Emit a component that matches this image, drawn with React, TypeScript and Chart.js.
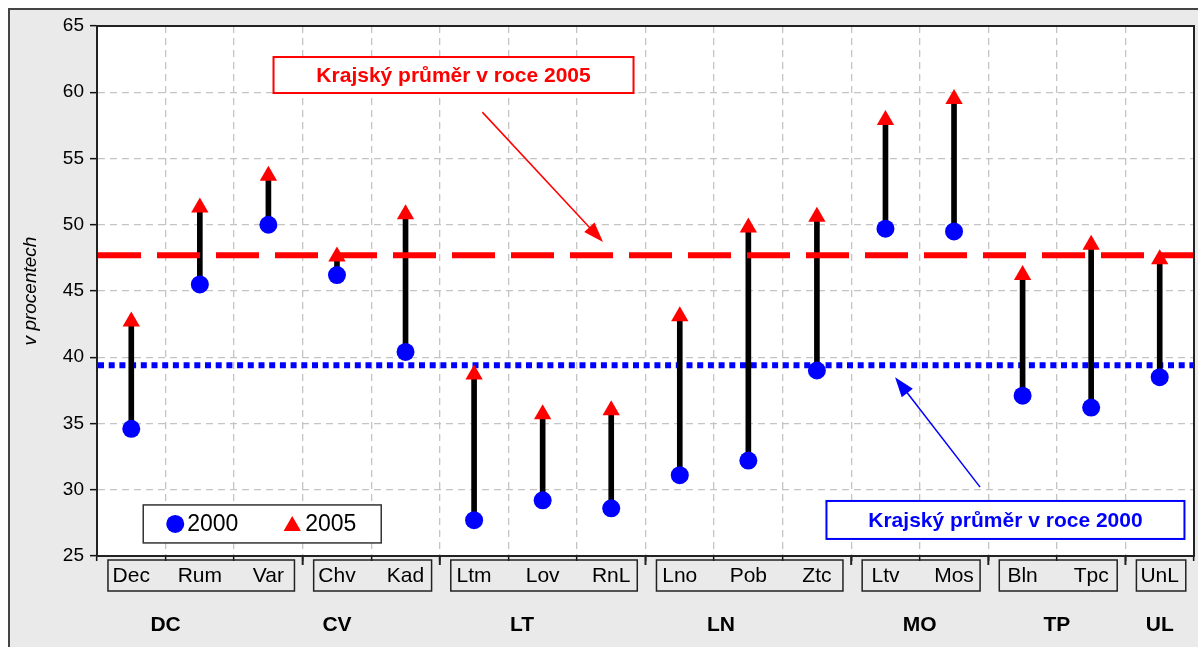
import React, { useEffect, useRef } from 'react';
import { Chart, registerables } from 'chart.js';

Chart.register(...registerables);

// ---------- data ----------
const categories = ['Dec', 'Rum', 'Var', 'Chv', 'Kad', 'Ltm', 'Lov', 'RnL', 'Lno', 'Pob', 'Ztc', 'Ltv', 'Mos', 'Bln', 'Tpc', 'UnL'];
const values2000 = [34.6, 45.5, 50.0, 46.2, 40.4, 27.7, 29.2, 28.6, 31.1, 32.2, 39.0, 49.7, 49.5, 37.1, 36.2, 38.5];
const values2005 = [42.7, 51.3, 53.7, 47.6, 50.8, 38.7, 35.7, 36.0, 43.1, 49.8, 50.6, 57.9, 59.5, 46.2, 48.5, 47.4];
const groupNames = ['DC', 'CV', 'LT', 'LN', 'MO', 'TP', 'UL'];
const groupSizes = [3, 2, 3, 3, 2, 2, 1];
const seriesLabels = ['2000', '2005'];
const regionalAvg2000 = 39.4;
const regionalAvg2005 = 47.7;
const avgLabel2000 = 'Krajský průměr v roce 2000';
const avgLabel2005 = 'Krajský průměr v roce 2005';
const yMin = 25;
const yMax = 65;
const yStep = 5;
const yTitle = 'v procentech';

// ---------- layout (data-coordinate anchors for decorations) ----------
const groupLabelAt = [0.5, 3, 5.7, 8.6, 11.5, 13.5, 15];
const box2005 = { x: 4.7, y: 61.3, w: 360, h: 36 };
const arrow2005 = { x1: 5.12, y1: 58.5, x2: 6.88, y2: 48.7 };
const box2000 = { x: 12.75, y: 27.72, w: 358, h: 38 };
const arrow2000 = { x1: 12.38, y1: 30.2, x2: 11.14, y2: 38.5 };
const legendBox = { x: 1.91, y: 27.42, w: 238, h: 38 };

const FONT = '"Liberation Sans", Arial, sans-serif';
const BLUE = '#0000ff';
const RED = '#ff0000';

function drawArrow(ctx: CanvasRenderingContext2D, x1: number, y1: number, x2: number, y2: number, color: string) {
  const ang = Math.atan2(y2 - y1, x2 - x1);
  const L = 20;
  const W = 7;
  ctx.save();
  ctx.strokeStyle = color;
  ctx.fillStyle = color;
  ctx.lineWidth = 1.5;
  ctx.beginPath();
  ctx.moveTo(x1, y1);
  ctx.lineTo(x2 - L * 0.8 * Math.cos(ang), y2 - L * 0.8 * Math.sin(ang));
  ctx.stroke();
  ctx.beginPath();
  ctx.moveTo(x2, y2);
  ctx.lineTo(x2 - L * Math.cos(ang) + W * Math.sin(ang), y2 - L * Math.sin(ang) - W * Math.cos(ang));
  ctx.lineTo(x2 - L * Math.cos(ang) - W * Math.sin(ang), y2 - L * Math.sin(ang) + W * Math.cos(ang));
  ctx.closePath();
  ctx.fill();
  ctx.restore();
}

function drawTextBox(ctx: CanvasRenderingContext2D, cx: number, cy: number, w: number, h: number, color: string, text: string) {
  ctx.save();
  ctx.fillStyle = '#ffffff';
  ctx.fillRect(cx - w / 2, cy - h / 2, w, h);
  ctx.strokeStyle = color;
  ctx.lineWidth = 2;
  ctx.strokeRect(cx - w / 2, cy - h / 2, w, h);
  ctx.fillStyle = color;
  ctx.font = `bold 21px ${FONT}`;
  ctx.textAlign = 'center';
  ctx.textBaseline = 'middle';
  ctx.fillText(text, cx, cy + 1);
  ctx.restore();
}

function drawTriangle(ctx: CanvasRenderingContext2D, x: number, y: number, r: number) {
  ctx.beginPath();
  let rad = 0;
  ctx.moveTo(x + Math.sin(rad) * r, y - Math.cos(rad) * r);
  rad += (2 * Math.PI) / 3;
  ctx.lineTo(x + Math.sin(rad) * r, y - Math.cos(rad) * r);
  rad += (2 * Math.PI) / 3;
  ctx.lineTo(x + Math.sin(rad) * r, y - Math.cos(rad) * r);
  ctx.closePath();
  ctx.fill();
}

const backgroundPlugin = {
  id: 'bgFrame',
  beforeDraw(chart: any) {
    const { ctx, width, height, chartArea: a } = chart;
    ctx.save();
    ctx.fillStyle = '#eaeaea';
    ctx.fillRect(0, 0, width, height);
    ctx.fillStyle = '#ffffff';
    ctx.fillRect(a.left, a.top, a.right - a.left, a.bottom - a.top);
    ctx.strokeStyle = '#444';
    ctx.lineWidth = 2;
    ctx.beginPath();
    ctx.moveTo(1, height);
    ctx.lineTo(1, 1);
    ctx.lineTo(width, 1);
    ctx.stroke();
    ctx.restore();
  },
};

function avgLine(chart: any, value: number, color: string, width: number, dash: number[]) {
  const { ctx, chartArea: a, scales } = chart;
  const y = scales.y.getPixelForValue(value);
  ctx.save();
  ctx.strokeStyle = color;
  ctx.lineWidth = width;
  ctx.setLineDash(dash);
  ctx.lineCap = 'butt';
  ctx.beginPath();
  ctx.moveTo(a.left + 1, y);
  ctx.lineTo(a.right - 1, y);
  ctx.stroke();
  ctx.restore();
}

const avgLinesPlugin = {
  id: 'avgLines',
  beforeDatasetsDraw(chart: any) {
    avgLine(chart, regionalAvg2000, BLUE, 6, [6, 4.7]);
  },
  afterDatasetsDraw(chart: any) {
    avgLine(chart, regionalAvg2005, RED, 6, [43, 16]);
  },
};

const decorPlugin = {
  id: 'decor',
  afterDraw(chart: any) {
    const { ctx, chartArea: a, scales } = chart;
    const xs = scales.x;
    const ys = scales.y;
    const step = xs.getPixelForValue(1) - xs.getPixelForValue(0);

    // plot border
    ctx.save();
    ctx.strokeStyle = '#222';
    ctx.lineWidth = 2;
    ctx.strokeRect(a.left, a.top, a.right - a.left, a.bottom - a.top);
    ctx.restore();

    // group boxes, longer ticks and group labels
    let start = 0;
    ctx.save();
    groupSizes.forEach((n, gi) => {
      const first = xs.getPixelForValue(start);
      const last = xs.getPixelForValue(start + n - 1);
      const left = first - step * 0.34;
      const right = Math.min(last + step * 0.38, a.right);
      ctx.strokeStyle = '#222';
      ctx.lineWidth = 1.5;
      ctx.strokeRect(left, a.bottom + 4, right - left, 31);
      if (gi > 0) {
        const bx = xs.getPixelForValue(start - 0.5);
        ctx.beginPath();
        ctx.lineWidth = 2;
        ctx.moveTo(bx, a.bottom);
        ctx.lineTo(bx, a.bottom + 9);
        ctx.stroke();
      }
      ctx.fillStyle = '#000';
      ctx.font = `bold 21px ${FONT}`;
      ctx.textAlign = 'center';
      ctx.textBaseline = 'middle';
      ctx.fillText(groupNames[gi], xs.getPixelForValue(groupLabelAt[gi]), a.bottom + 69);
      start += n;
    });
    ctx.restore();

    // legend
    const lx = xs.getPixelForValue(legendBox.x) - legendBox.w / 2;
    const ly = ys.getPixelForValue(legendBox.y) - legendBox.h / 2;
    const lcy = ly + legendBox.h / 2;
    ctx.save();
    ctx.fillStyle = '#fff';
    ctx.fillRect(lx, ly, legendBox.w, legendBox.h);
    ctx.strokeStyle = '#333';
    ctx.lineWidth = 1.5;
    ctx.strokeRect(lx, ly, legendBox.w, legendBox.h);
    ctx.fillStyle = BLUE;
    ctx.beginPath();
    ctx.arc(lx + 32, lcy, 9, 0, Math.PI * 2);
    ctx.fill();
    ctx.fillStyle = RED;
    drawTriangle(ctx, lx + 149, lcy + 2, 10);
    ctx.fillStyle = '#000';
    ctx.font = `23px ${FONT}`;
    ctx.textAlign = 'left';
    ctx.textBaseline = 'middle';
    ctx.fillText(seriesLabels[0], lx + 44, lcy + 1);
    ctx.fillText(seriesLabels[1], lx + 162, lcy + 1);
    ctx.restore();

    // annotations
    drawArrow(ctx, xs.getPixelForValue(arrow2005.x1), ys.getPixelForValue(arrow2005.y1), xs.getPixelForValue(arrow2005.x2), ys.getPixelForValue(arrow2005.y2), RED);
    drawArrow(ctx, xs.getPixelForValue(arrow2000.x1), ys.getPixelForValue(arrow2000.y1), xs.getPixelForValue(arrow2000.x2), ys.getPixelForValue(arrow2000.y2), BLUE);
    drawTextBox(ctx, xs.getPixelForValue(box2005.x), ys.getPixelForValue(box2005.y), box2005.w, box2005.h, RED, avgLabel2005);
    drawTextBox(ctx, xs.getPixelForValue(box2000.x), ys.getPixelForValue(box2000.y), box2000.w, box2000.h, BLUE, avgLabel2000);
  },
};

export default function App() {
  const ref = useRef<HTMLCanvasElement | null>(null);

  useEffect(() => {
    if (!ref.current) return;
    const chart = new Chart(ref.current, {
      type: 'bar',
      data: {
        labels: categories,
        datasets: [
          {
            type: 'bar',
            label: 'range',
            data: categories.map((_, i) => [values2000[i], values2005[i]]) as any,
            backgroundColor: '#000000',
            barThickness: 5,
            grouped: false,
            order: 3,
          } as any,
          {
            type: 'line',
            label: seriesLabels[0],
            data: values2000,
            showLine: false,
            pointStyle: 'circle',
            pointRadius: 9,
            pointBackgroundColor: BLUE,
            pointBorderColor: BLUE,
            pointBorderWidth: 0,
            clip: false,
            order: 2,
          },
          {
            type: 'line',
            label: seriesLabels[1],
            data: values2005,
            showLine: false,
            pointStyle: 'triangle',
            pointRadius: 10,
            pointBackgroundColor: RED,
            pointBorderColor: RED,
            pointBorderWidth: 0,
            clip: false,
            order: 1,
          },
        ],
      },
      options: {
        animation: false,
        responsive: true,
        maintainAspectRatio: false,
        layout: { autoPadding: false, padding: { left: 0, top: 18, right: 4, bottom: 0 } },
        plugins: {
          legend: { display: false },
          tooltip: { enabled: false },
          title: { display: false },
        },
        scales: {
          x: {
            type: 'category',
            offset: true,
            grid: {
              offset: true,
              color: '#c4c4c4',
              lineWidth: 1.3,
              drawTicks: true,
              tickLength: 5,
              tickColor: '#111',
              tickWidth: 1.5,
              tickBorderDash: [],
            },
            border: { display: true, color: '#111', width: 2, dash: [7, 5] },
            ticks: {
              color: '#000',
              font: { family: FONT, size: 21 },
              padding: 3,
              maxRotation: 0,
              autoSkip: false,
            },
            afterFit(scale: any) {
              scale.height = 91;
              scale.paddingLeft = 0;
              scale.paddingRight = 0;
            },
          },
          y: {
            type: 'linear',
            min: yMin,
            max: yMax,
            grid: {
              color: '#c4c4c4',
              lineWidth: 1.3,
              drawTicks: true,
              tickLength: 7,
              tickColor: '#111',
              tickWidth: 1.5,
              tickBorderDash: [],
            },
            border: { display: true, color: '#111', width: 2, dash: [7, 5] },
            ticks: {
              stepSize: yStep,
              color: '#000',
              font: { family: FONT, size: 19 },
              padding: 6,
            },
            title: {
              display: true,
              text: yTitle,
              color: '#000',
              font: { family: FONT, size: 19, style: 'italic' },
              padding: { top: 11, bottom: 0 },
            },
            afterFit(scale: any) {
              scale.width = 89;
            },
          },
        },
      },
      plugins: [backgroundPlugin, avgLinesPlugin, decorPlugin],
    });
    return () => chart.destroy();
  }, []);

  return (
    <div style={{ position: 'absolute', left: 8, top: 8, width: 1190, height: 639 }}>
      <canvas ref={ref} />
    </div>
  );
}
